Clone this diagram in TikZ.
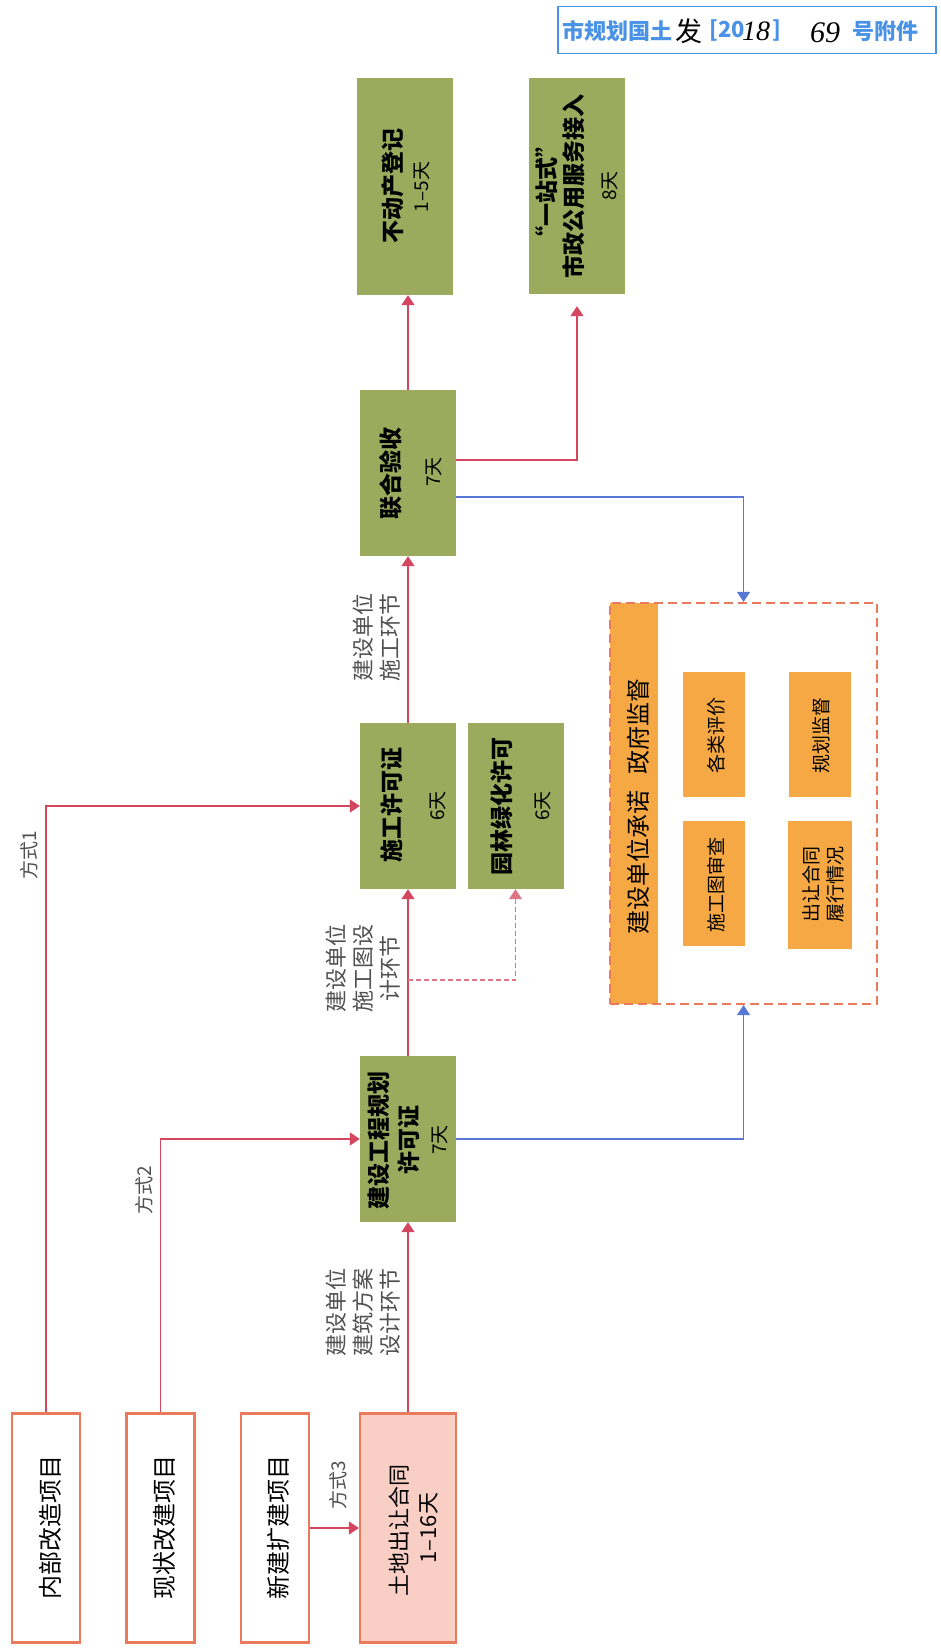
\documentclass[tikz,border=0pt]{standalone}
\usepackage{fontspec}
\setmainfont{Noto Sans CJK SC}
\newfontfamily\cjk{Noto Sans CJK SC}
\newfontfamily\hand{Liberation Serif}
\usetikzlibrary{arrows.meta,calc}
\definecolor{boxgreen}{RGB}{155,170,92}
\definecolor{boxorange}{RGB}{245,168,68}
\definecolor{edgeorange}{RGB}{234,122,92}
\definecolor{landpink}{RGB}{249,206,196}
\definecolor{linkred}{RGB}{212,70,95}
\definecolor{linkblue}{RGB}{88,120,214}
\definecolor{stampblue}{RGB}{74,146,230}
\definecolor{labelgray}{RGB}{80,80,80}
\newcommand\setfs[1]{\fontsize{#1pt}{#1pt}\selectfont}
\begin{document}
\begin{tikzpicture}[x=1pt,y=-1pt,
  gbox/.style={fill=boxgreen, draw=none, minimum width=96pt, inner sep=0pt},
  pbox/.style={draw=edgeorange, line width=2.2pt, fill=white, minimum width=68pt, minimum height=229pt, inner sep=0pt},
  obox/.style={fill=boxorange, draw=none, minimum width=62pt, inner sep=0pt},
  title/.style={rotate=90, inner sep=0pt, font=\cjk\bfseries\setfs{23}},
  days/.style={rotate=90, inner sep=0pt, font=\cjk\setfs{19}},
  ptext/.style={rotate=90, inner sep=0pt, font=\cjk\setfs{24}},
  otext/.style={rotate=90, inner sep=0pt, font=\cjk\setfs{19}},
  lbl/.style={rotate=90, inner sep=0pt, text=labelgray, font=\cjk\setfs{22}},
  waylbl/.style={rotate=90, inner sep=0pt, text=labelgray, font=\cjk\setfs{19}},
  redarrow/.style={draw=linkred, line width=1.2pt, -{Triangle[width=13pt,length=10pt]}},
  bluearrow/.style={draw=linkblue, line width=1.2pt, -{Triangle[width=13pt,length=10pt]}},
  pinkdash/.style={draw=linkred!75, line width=1.1pt, dash pattern=on 5pt off 3pt, -{Triangle[width=13pt,length=10pt]}},
]
\useasboundingbox (0,0) rectangle (940,1648);
\fill[white] (0,0) rectangle (940,1648);

% stamp
\node[draw=stampblue, line width=1.8pt, minimum width=378pt, minimum height=47pt, inner sep=0pt] (stamp) at (747,30) {};
\node[anchor=west, inner sep=0pt, text=stampblue, font=\cjk\bfseries\setfs{22}] (st1) at (562,31) {市规划国土};
\node[anchor=west, inner sep=0pt, font=\cjk\setfs{27}] (st2) at (675,31) {发};
\node[anchor=west, inner sep=0pt, text=stampblue, font=\cjk\bfseries\setfs{22}] (st3) at (709,31) {[20};
\node[anchor=west, inner sep=0pt, font=\hand\itshape\setfs{28}] (st4) at (742,31) {18};
\node[anchor=west, inner sep=0pt, text=stampblue, font=\cjk\bfseries\setfs{22}] (st5) at (772,31) {]};
\node[anchor=west, inner sep=0pt, font=\hand\itshape\setfs{30}] (st6) at (810,33) {69};
\node[anchor=west, inner sep=0pt, text=stampblue, font=\cjk\bfseries\setfs{22}] (st7) at (852,31) {号附件};

% green boxes
\node[gbox, minimum height=217pt] (bdc) at (405,186.5) {};
\node[title] (bdct) at (393,186) {不动产登记};
\node[days] (bdcd) at (422,187) {1–5天};

\node[gbox, minimum height=216pt] (yzs) at (577,186) {};
\node[title] (yzst1) at (547,192) {“一站式”};
\node[title] (yzst2) at (574,186) {市政公用服务接入};
\node[days] (yzsd) at (610,186) {8天};

\node[gbox, minimum height=166pt] (lh) at (408,473) {};
\node[title] (lht) at (391,473) {联合验收};
\node[days] (lhd) at (434,472) {7天};

\node[gbox, minimum height=166pt] (sg) at (408,806) {};
\node[title] (sgt) at (392,805) {施工许可证};
\node[days] (sgd) at (438,806) {6天};

\node[gbox, minimum height=166pt] (yl) at (515.5,806) {};
\node[title] (ylt) at (502,806) {园林绿化许可};
\node[days] (yld) at (543,806) {6天};

\node[gbox, minimum height=166pt] (gh) at (408,1139) {};
\node[title] (ght1) at (379,1140) {建设工程规划};
\node[title] (ght2) at (409,1140) {许可证};
\node[days] (ghd) at (440,1140) {7天};

% bottom boxes
\node[pbox] (nb) at (46,1528) {};
\node[ptext] (nbt) at (50,1527) {内部改造项目};
\node[pbox] (xz) at (160.5,1528) {};
\node[ptext] (xzt) at (164,1527) {现状改建项目};
\node[pbox] (xj) at (275,1528) {};
\node[ptext] (xjt) at (278,1527) {新建扩建项目};
\node[pbox, fill=landpink, minimum width=96pt] (td) at (408,1528) {};
\node[rotate=90, inner sep=0pt, font=\cjk\setfs{22}] (tdt) at (399,1530) {土地出让合同};
\node[rotate=90, inner sep=0pt, font=\cjk\setfs{22}] (tdd) at (429,1528) {1–16天};

% supervision box
\node[fill=boxorange, minimum width=48pt, minimum height=401pt, inner sep=0pt] (bar) at (634,803.5) {};
\node[draw=edgeorange, line width=2.2pt, dash pattern=on 9pt off 5pt, minimum width=267pt, minimum height=401pt, inner sep=0pt] (sup) at (743.5,803.5) {};
\node[rotate=90, inner sep=0pt, font=\cjk\setfs{24}] (bart) at (638,806) {建设单位承诺\hspace{16pt}政府监督};

\node[obox, minimum height=125pt] (glpj) at (713.5,734.5) {};
\node[otext] (glpjt) at (716,735) {各类评价};
\node[obox, minimum height=125pt] (ghjd) at (819.5,734.5) {};
\node[otext] (ghjdt) at (821,735) {规划监督};
\node[obox, minimum height=125pt] (sgsc) at (713.5,883.5) {};
\node[otext] (sgsct) at (716,885) {施工图审查};
\node[obox, minimum width=64pt, minimum height=128pt] (cr) at (820,885) {};
\node[otext] (crt1) at (811,884) {出让合同};
\node[otext] (crt2) at (835,884) {履行情况};

% labels
\node[waylbl] (w1) at (29,855) {方式1};
\node[waylbl] (w2) at (144,1190) {方式2};
\node[waylbl] (w3) at (338,1485) {方式3};

\node[lbl] (la1) at (336,1312) {建设单位};
\node[lbl] (la2) at (363,1312) {建筑方案};
\node[lbl] (la3) at (390,1312) {设计环节};

\node[lbl] (lb1) at (336,968) {建设单位};
\node[lbl] (lb2) at (363,968) {施工图设};
\node[lbl] (lb3) at (390,968) {计环节};

\node[lbl] (lc1) at (363,637) {建设单位};
\node[lbl] (lc2) at (390,637) {施工环节};

% connectors
\draw[redarrow] (nb.north) |- (sg.west);
\draw[redarrow] (xz.north) |- (gh.west);
\draw[redarrow] (xj.east) -- (td.west);
\draw[redarrow] (td.north) -- (gh.south);
\draw[redarrow] (gh.north) -- (sg.south);
\draw[redarrow] (sg.north) -- (lh.south);
\draw[redarrow] (lh.north) -- (lh.north |- bdc.south);
\draw[redarrow, shorten >=12pt] ([yshift=13pt]lh.east) -| (yzs.south);
\coordinate (split) at (408,980);
\draw[pinkdash] (split) -| (yl.south);
\draw[bluearrow] ([yshift=-24pt]lh.east) -| (sup.north);
\draw[bluearrow] (gh.east) -| (sup.south);
\end{tikzpicture}
\end{document}
